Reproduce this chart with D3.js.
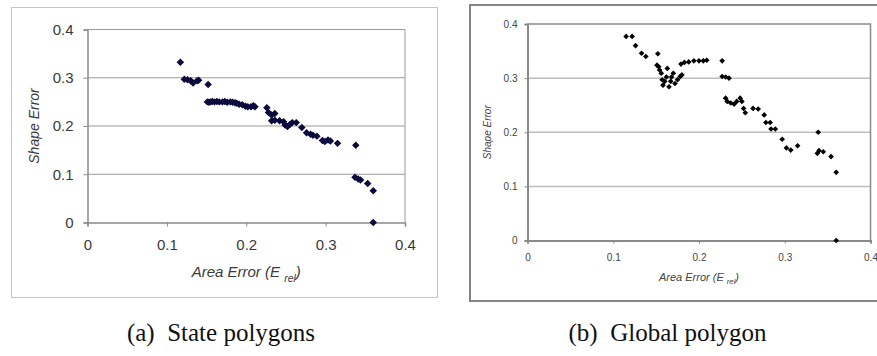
<!DOCTYPE html>
<html>
<head>
<meta charset="utf-8">
<script src="https://cdn.jsdelivr.net/npm/d3@7"></script>
<style>
  body { margin: 0; background: #fff; }
  svg { display: block; }
</style>
</head>
<body>
<svg id="chart" width="877" height="356"></svg>
<script>
// (a) state polygons
var stateArea = [0.117, 0.122, 0.126, 0.130, 0.133, 0.138, 0.140, 0.152,
  0.151, 0.153, 0.155, 0.157, 0.160, 0.163, 0.166, 0.170, 0.173, 0.176, 0.180, 0.183, 0.186,
  0.188, 0.191, 0.195, 0.199, 0.202, 0.206, 0.209, 0.211,
  0.226, 0.228, 0.232, 0.236, 0.232, 0.236, 0.242, 0.247, 0.249, 0.252, 0.255, 0.258, 0.263,
  0.270, 0.276, 0.281, 0.284, 0.289, 0.296, 0.299, 0.303, 0.306, 0.315,
  0.338, 0.337, 0.341, 0.344, 0.353, 0.360, 0.360];
var stateShape = [0.332, 0.297, 0.296, 0.294, 0.289, 0.294, 0.295, 0.286,
  0.250, 0.249, 0.250, 0.251, 0.250, 0.251, 0.250, 0.250, 0.251, 0.249, 0.250, 0.249, 0.248,
  0.247, 0.245, 0.244, 0.241, 0.240, 0.240, 0.242, 0.240,
  0.238, 0.228, 0.223, 0.226, 0.211, 0.212, 0.211, 0.209, 0.202, 0.199, 0.203, 0.207, 0.207,
  0.197, 0.186, 0.183, 0.181, 0.179, 0.170, 0.168, 0.171, 0.169, 0.164,
  0.160, 0.094, 0.090, 0.088, 0.081, 0.066, 0.000];

// (b) global polygon
var globalArea = [0.115, 0.122, 0.126, 0.133, 0.138, 0.152,
  0.151, 0.153, 0.154, 0.156, 0.157, 0.158, 0.163, 0.160, 0.162, 0.165, 0.167, 0.168, 0.170,
  0.172, 0.175, 0.178, 0.180, 0.179, 0.183, 0.188, 0.194, 0.200, 0.205, 0.209,
  0.227, 0.227, 0.231, 0.235, 0.231, 0.233, 0.237, 0.241, 0.244, 0.248, 0.250, 0.252, 0.254,
  0.263, 0.269, 0.276, 0.278, 0.283, 0.284, 0.289, 0.297, 0.302, 0.307, 0.315,
  0.339, 0.338, 0.340, 0.345, 0.354, 0.360, 0.360];
var globalShape = [0.377, 0.377, 0.360, 0.346, 0.340, 0.345,
  0.324, 0.321, 0.315, 0.309, 0.297, 0.287, 0.318, 0.294, 0.302, 0.284, 0.294, 0.302, 0.309,
  0.290, 0.297, 0.303, 0.306, 0.326, 0.329, 0.330, 0.332, 0.332, 0.332, 0.333,
  0.332, 0.303, 0.302, 0.300, 0.263, 0.257, 0.254, 0.252, 0.257, 0.263, 0.257, 0.244, 0.236,
  0.244, 0.243, 0.232, 0.218, 0.218, 0.206, 0.206, 0.187, 0.171, 0.167, 0.175,
  0.200, 0.161, 0.166, 0.164, 0.155, 0.126, 0.000];

var xTicks = [0, 0.1, 0.2, 0.3, 0.4];
var yTicks = [0, 0.1, 0.2, 0.3, 0.4];
var captions = ["(a)  State polygons", "(b)  Global polygon"];

var svg = d3.select("#chart");
var diamond = d3.symbol().type(d3.symbolSquare);

function panel(cfg) {
  // outer chart frame
  svg.append("rect")
    .attr("x", cfg.frame[0]).attr("y", cfg.frame[1])
    .attr("width", cfg.frame[2]).attr("height", cfg.frame[3])
    .attr("fill", "none")
    .attr("stroke", cfg.frameColor)
    .attr("stroke-width", cfg.frameWidth);

  var x = d3.scaleLinear().domain([0, 0.4]).range([cfg.left, cfg.right]);
  var y = d3.scaleLinear().domain([0, 0.4]).range([cfg.bottom, cfg.top]);
  var g = svg.append("g");

  // gridlines
  g.selectAll(".grid").data(yTicks.slice(1, 4)).enter().append("line")
    .attr("x1", cfg.left).attr("x2", cfg.right)
    .attr("y1", function(d) { return y(d) }).attr("y2", function(d) { return y(d) })
    .attr("stroke", cfg.gridColor).attr("stroke-width", cfg.gridWidth);

  // plot area border (top + right)
  g.append("path")
    .attr("d", "M" + cfg.left + "," + cfg.top + "H" + cfg.right + "V" + cfg.bottom)
    .attr("fill", "none").attr("stroke", cfg.borderColor).attr("stroke-width", cfg.gridWidth);

  var fmt = function(d) { return d === 0 ? "0" : d3.format(".1f")(d) };
  var xAxis = g.append("g").attr("transform", "translate(0," + cfg.bottom + ")")
    .call(d3.axisBottom(x).tickValues(xTicks).tickSize(cfg.tick).tickPadding(cfg.xpad).tickFormat(fmt));
  var yAxis = g.append("g").attr("transform", "translate(" + cfg.left + ",0)")
    .call(d3.axisLeft(y).tickValues(yTicks).tickSize(cfg.tick).tickPadding(cfg.ypad).tickFormat(fmt));
  [xAxis, yAxis].forEach(function(a) {
    a.select(".domain").attr("stroke", cfg.axisColor).attr("stroke-width", cfg.axisWidth);
    a.selectAll(".tick line").attr("stroke", cfg.axisColor);
    a.selectAll("text").attr("fill", cfg.textColor)
      .style("font-family", "'Liberation Sans', Arial, sans-serif")
      .style("font-size", cfg.font + "px");
  });

  // points
  g.selectAll(".pt").data(cfg.xs).enter().append("path")
    .attr("d", diamond.size(cfg.mark))
    .attr("transform", function(d, i) {
      return "translate(" + x(d) + "," + y(cfg.ys[i]) + ") rotate(45)";
    })
    .attr("fill", cfg.markColor);

  // axis titles
  var xt = svg.append("text")
    .attr("x", (cfg.left + cfg.right) / 2).attr("y", cfg.xTitleY)
    .attr("text-anchor", "middle").attr("fill", cfg.textColor)
    .style("font-family", "'Liberation Sans', Arial, sans-serif")
    .style("font-style", "italic").style("font-size", cfg.titleFont + "px");
  xt.append("tspan").text("Area Error (E ");
  xt.append("tspan").text("rel").attr("dy", cfg.titleFont * 0.3)
    .style("font-size", (cfg.titleFont * 0.7) + "px");
  xt.append("tspan").text(")").attr("dy", -cfg.titleFont * 0.3);

  svg.append("text")
    .attr("transform", "translate(" + cfg.yTitleX + "," + (cfg.top + cfg.bottom) / 2 + ") rotate(-90)")
    .attr("text-anchor", "middle").attr("fill", cfg.textColor)
    .style("font-family", "'Liberation Sans', Arial, sans-serif")
    .style("font-style", "italic").style("font-size", cfg.yTitleFont + "px")
    .text("Shape Error");

  svg.append("text")
    .attr("x", cfg.capX).attr("y", 341)
    .attr("text-anchor", "middle").attr("fill", "#111")
    .style("font-family", "'Liberation Serif', 'Times New Roman', serif")
    .style("font-size", "25px").style("white-space", "pre")
    .text(cfg.caption);
}

panel({
  frame: [11.5, 7.5, 426, 290], frameColor: "#c4c4c4", frameWidth: 1,
  left: 87.5, right: 405, top: 29.5, bottom: 222.5,
  gridColor: "#9a9a9a", gridWidth: 1, borderColor: "#9a9a9a",
  axisColor: "#8a8a8a", axisWidth: 1.5, tick: 4, xpad: 13, ypad: 10,
  textColor: "#3a3a3a", font: 15, titleFont: 15, yTitleFont: 14,
  xTitleY: 277, yTitleX: 39,
  mark: 28, markColor: "#0a0a3c",
  xs: stateArea, ys: stateShape,
  caption: captions[0], capX: 221
});

panel({
  frame: [470, 5, 408, 296], frameColor: "#858585", frameWidth: 2,
  left: 527.5, right: 870.5, top: 24, bottom: 240.5,
  gridColor: "#bdbdbd", gridWidth: 1.5, borderColor: "#8a8a8a",
  axisColor: "#8a8a8a", axisWidth: 2, tick: 3, xpad: 10, ypad: 7,
  textColor: "#444", font: 10, titleFont: 11, yTitleFont: 10,
  xTitleY: 281, yTitleX: 491,
  mark: 16, markColor: "#000",
  xs: globalArea, ys: globalShape,
  caption: captions[1], capX: 667.5
});
</script>
</body>
</html>
